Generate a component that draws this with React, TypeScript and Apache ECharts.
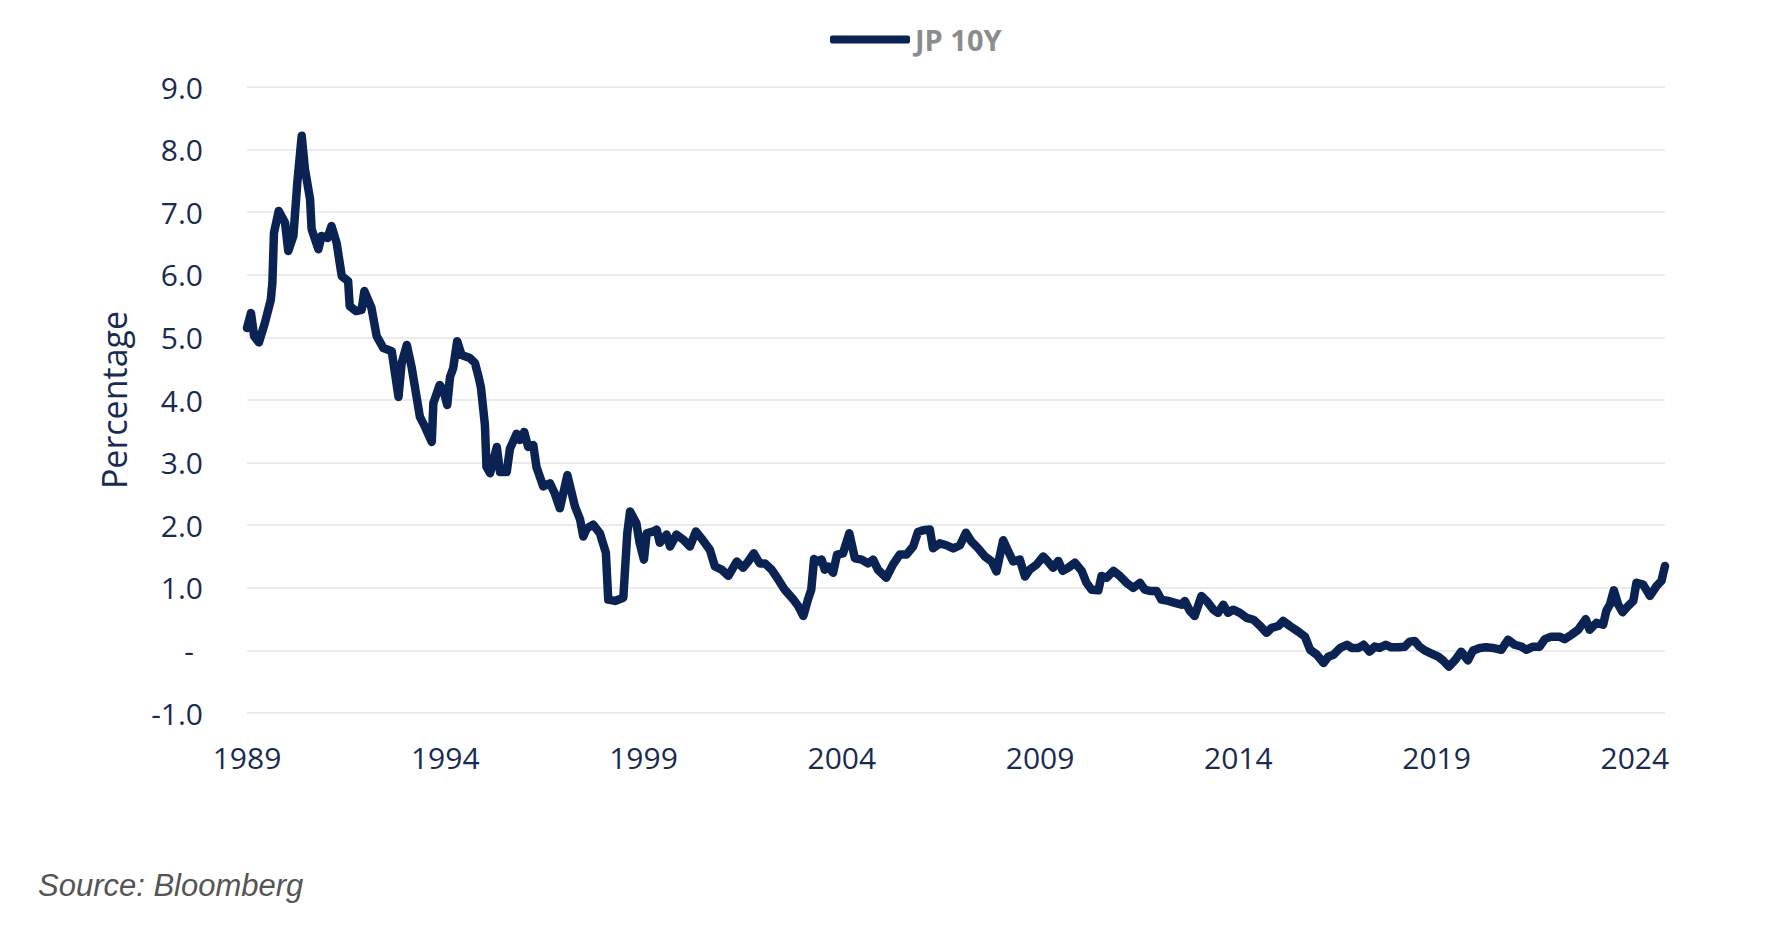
import React, { useEffect, useRef } from "react";
import * as echarts from "echarts";

// Decimal years
const dates: number[] = [
  1989.0, 1989.1, 1989.18, 1989.3, 1989.45, 1989.6, 1989.64, 1989.68, 1989.8, 1989.96,
  1990.04, 1990.17, 1990.27, 1990.38, 1990.46, 1990.59, 1990.63, 1990.8, 1990.88, 1991.03,
  1991.13, 1991.26, 1991.39, 1991.55, 1991.59, 1991.75, 1991.89, 1991.96, 1992.14, 1992.27,
  1992.44, 1992.65, 1992.82, 1992.9, 1993.03, 1993.15, 1993.36, 1993.49, 1993.66, 1993.7,
  1993.86, 1993.95, 1994.05, 1994.12, 1994.2, 1994.3, 1994.41, 1994.62, 1994.75, 1994.84,
  1994.9, 1995.0, 1995.04, 1995.13, 1995.3, 1995.38, 1995.55, 1995.63, 1995.8, 1995.88,
  1995.99, 1996.09, 1996.22, 1996.3, 1996.47, 1996.64, 1996.76, 1996.89, 1997.08, 1997.27,
  1997.4, 1997.48, 1997.57, 1997.73, 1997.9, 1998.05, 1998.11, 1998.28, 1998.49, 1998.59,
  1998.66, 1998.82, 1998.9, 1999.01, 1999.08, 1999.25, 1999.33, 1999.41, 1999.58, 1999.67,
  1999.83, 2000.0, 2000.17, 2000.32, 2000.46, 2000.67, 2000.8, 2000.97, 2001.14, 2001.35,
  2001.51, 2001.64, 2001.78, 2001.93, 2002.06, 2002.23, 2002.4, 2002.56, 2002.77, 2002.9,
  2003.03, 2003.15, 2003.23, 2003.3, 2003.4, 2003.49, 2003.57, 2003.66, 2003.78, 2003.88,
  2004.03, 2004.19, 2004.33, 2004.5, 2004.66, 2004.79, 2004.91, 2005.12, 2005.29, 2005.46,
  2005.63, 2005.8, 2005.92, 2006.05, 2006.22, 2006.3, 2006.47, 2006.64, 2006.81, 2006.98,
  2007.13, 2007.27, 2007.44, 2007.61, 2007.78, 2007.9, 2008.07, 2008.2, 2008.32, 2008.49,
  2008.62, 2008.74, 2008.91, 2009.08, 2009.2, 2009.33, 2009.46, 2009.57, 2009.71, 2009.88,
  2010.05, 2010.17, 2010.3, 2010.47, 2010.55, 2010.68, 2010.85, 2011.01, 2011.18, 2011.35,
  2011.52, 2011.64, 2011.77, 2011.94, 2012.06, 2012.23, 2012.4, 2012.57, 2012.65, 2012.78,
  2012.9, 2013.07, 2013.2, 2013.37, 2013.49, 2013.62, 2013.74, 2013.87, 2014.04, 2014.21,
  2014.38, 2014.55, 2014.71, 2014.84, 2015.01, 2015.13, 2015.3, 2015.51, 2015.68, 2015.81,
  2015.98, 2016.15, 2016.27, 2016.4, 2016.57, 2016.74, 2016.86, 2017.03, 2017.16, 2017.31,
  2017.44, 2017.56, 2017.72, 2017.86, 2018.03, 2018.2, 2018.32, 2018.45, 2018.57, 2018.7,
  2018.87, 2019.04, 2019.16, 2019.31, 2019.46, 2019.62, 2019.79, 2019.92, 2020.09, 2020.25,
  2020.42, 2020.63, 2020.8, 2020.97, 2021.14, 2021.26, 2021.43, 2021.6, 2021.73, 2021.89,
  2022.1, 2022.23, 2022.4, 2022.57, 2022.76, 2022.86, 2023.03, 2023.2, 2023.28, 2023.37,
  2023.47, 2023.58, 2023.69, 2023.83, 2023.96, 2024.04, 2024.21, 2024.38, 2024.55, 2024.67,
  2024.76,
];

// JP 10Y yield, percent
const jp10y: number[] = [
  5.15, 5.39, 5.02, 4.92, 5.23, 5.6, 5.87, 6.67, 7.02, 6.83,
  6.38, 6.62, 7.48, 8.22, 7.69, 7.21, 6.73, 6.41, 6.62, 6.59,
  6.78, 6.51, 5.98, 5.9, 5.5, 5.42, 5.44, 5.74, 5.47, 5.02,
  4.83, 4.78, 4.05, 4.59, 4.88, 4.53, 3.73, 3.57, 3.33, 3.95,
  4.24, 4.16, 3.92, 4.37, 4.51, 4.94, 4.72, 4.67, 4.59, 4.37,
  4.2, 3.6, 2.93, 2.83, 3.25, 2.85, 2.85, 3.22, 3.46, 3.36,
  3.49, 3.25, 3.28, 2.93, 2.62, 2.67, 2.51, 2.27, 2.8, 2.3,
  2.09, 1.82, 1.95, 2.01, 1.87, 1.56, 0.81, 0.79, 0.84, 1.87,
  2.22, 2.03, 1.72, 1.45, 1.87, 1.9, 1.93, 1.72, 1.85, 1.66,
  1.85, 1.77, 1.66, 1.9, 1.79, 1.61, 1.34, 1.29, 1.19, 1.42,
  1.32, 1.42, 1.55, 1.39, 1.39, 1.29, 1.13, 0.97, 0.82, 0.71,
  0.55, 0.82, 0.97, 1.46, 1.42, 1.45, 1.29, 1.34, 1.24, 1.53,
  1.55, 1.87, 1.47, 1.45, 1.39, 1.45, 1.29, 1.16, 1.37, 1.53,
  1.53, 1.66, 1.89, 1.92, 1.93, 1.63, 1.71, 1.68, 1.63, 1.68,
  1.88, 1.74, 1.63, 1.5, 1.42, 1.26, 1.76, 1.58, 1.42, 1.45,
  1.18, 1.29, 1.37, 1.5, 1.42, 1.32, 1.43, 1.27, 1.32, 1.4,
  1.27, 1.08, 0.97, 0.96, 1.19, 1.16, 1.27, 1.19, 1.08, 1.0,
  1.08, 0.97, 0.95, 0.95, 0.81, 0.79, 0.76, 0.73, 0.79, 0.63,
  0.55, 0.87, 0.79, 0.65, 0.6, 0.73, 0.6, 0.65, 0.6, 0.52,
  0.49, 0.39, 0.28, 0.36, 0.39, 0.47, 0.39, 0.3, 0.22, 0.01,
  -0.07, -0.2, -0.1, -0.07, 0.04, 0.09, 0.04, 0.04, 0.09, -0.02,
  0.06, 0.04, 0.09, 0.05, 0.05, 0.06, 0.14, 0.15, 0.06, 0.0,
  -0.05, -0.1, -0.16, -0.26, -0.16, -0.02, -0.16, 0.0, 0.04, 0.05,
  0.04, 0.01, 0.17, 0.09, 0.06, 0.01, 0.06, 0.06, 0.18, 0.22,
  0.22, 0.18, 0.25, 0.33, 0.5, 0.33, 0.44, 0.41, 0.63, 0.73,
  0.96, 0.73, 0.61, 0.71, 0.79, 1.08, 1.05, 0.87, 1.03, 1.11,
  1.35,
];

const startYear = 1989;
const endYear = 2024.76;
const yTicks = { min: -1, max: 9, step: 1 };
const seriesName = "JP 10Y";

const NAVY = "#0b2352";
const LABEL = "#1a2b52";
const FONT = "'Open Sans', sans-serif";

export default function App() {
  const ref = useRef<HTMLDivElement>(null);

  useEffect(() => {
    if (!ref.current) return;
    const chart = echarts.init(ref.current, undefined, { renderer: "svg" });
    const points = dates.map((d, i) => [d - startYear, jp10y[i]]);

    chart.setOption({
      animation: false,
      backgroundColor: "#ffffff",
      textStyle: { fontFamily: FONT },
      grid: { left: 247, right: 105, top: 87, bottom: 223, containLabel: false },
      legend: {
        data: [seriesName],
        left: 825,
        top: 20,
        icon: "roundRect",
        itemWidth: 80,
        itemHeight: 8,
        textStyle: { fontSize: 29, fontWeight: "bold", color: "#8c8c8c", fontFamily: FONT },
      },
      xAxis: {
        type: "value",
        min: 0,
        max: endYear - startYear,
        interval: 5,
        axisLine: { show: false },
        axisTick: { show: false },
        splitLine: { show: false },
        axisLabel: {
          showMaxLabel: false,
          fontSize: 30,
          color: LABEL,
          margin: 29,
          fontFamily: FONT,
          formatter: (v: number) => String(startYear + Math.round(v)),
        },
      },
      yAxis: {
        type: "value",
        min: yTicks.min,
        max: yTicks.max,
        interval: yTicks.step,
        name: "Percentage",
        nameLocation: "middle",
        nameGap: 116,
        nameTextStyle: { fontSize: 34, color: LABEL, fontFamily: FONT },
        axisLine: { show: false },
        axisTick: { show: false },
        splitLine: { lineStyle: { color: "#ebebeb", width: 2 } },
        axisLabel: {
          fontSize: 30,
          color: LABEL,
          margin: 44,
          fontFamily: FONT,
          formatter: (v: number) => (Math.abs(v) < 1e-9 ? "{dash|-}" : v.toFixed(1)),
          rich: { dash: { fontSize: 30, color: LABEL, padding: [0, 9, 0, 0], fontFamily: FONT } },
        },
      },
      series: [
        {
          name: seriesName,
          type: "line",
          data: points,
          showSymbol: false,
          symbol: "none",
          lineStyle: { color: NAVY, width: 8.5, join: "round", cap: "round" },
          itemStyle: { color: NAVY },
        },
      ],
      graphic: [
        {
          type: "text",
          left: 38,
          top: 870,
          style: {
            text: "Source: Bloomberg",
            fontSize: 31,
            fontStyle: "italic",
            fontFamily: "'Liberation Sans', Arial, sans-serif",
            fill: "#555555",
          },
        },
      ],
    });

    return () => chart.dispose();
  }, []);

  return (
    <div
      ref={ref}
      style={{ position: "absolute", left: 0, top: 0, width: 1770, height: 936 }}
    />
  );
}
